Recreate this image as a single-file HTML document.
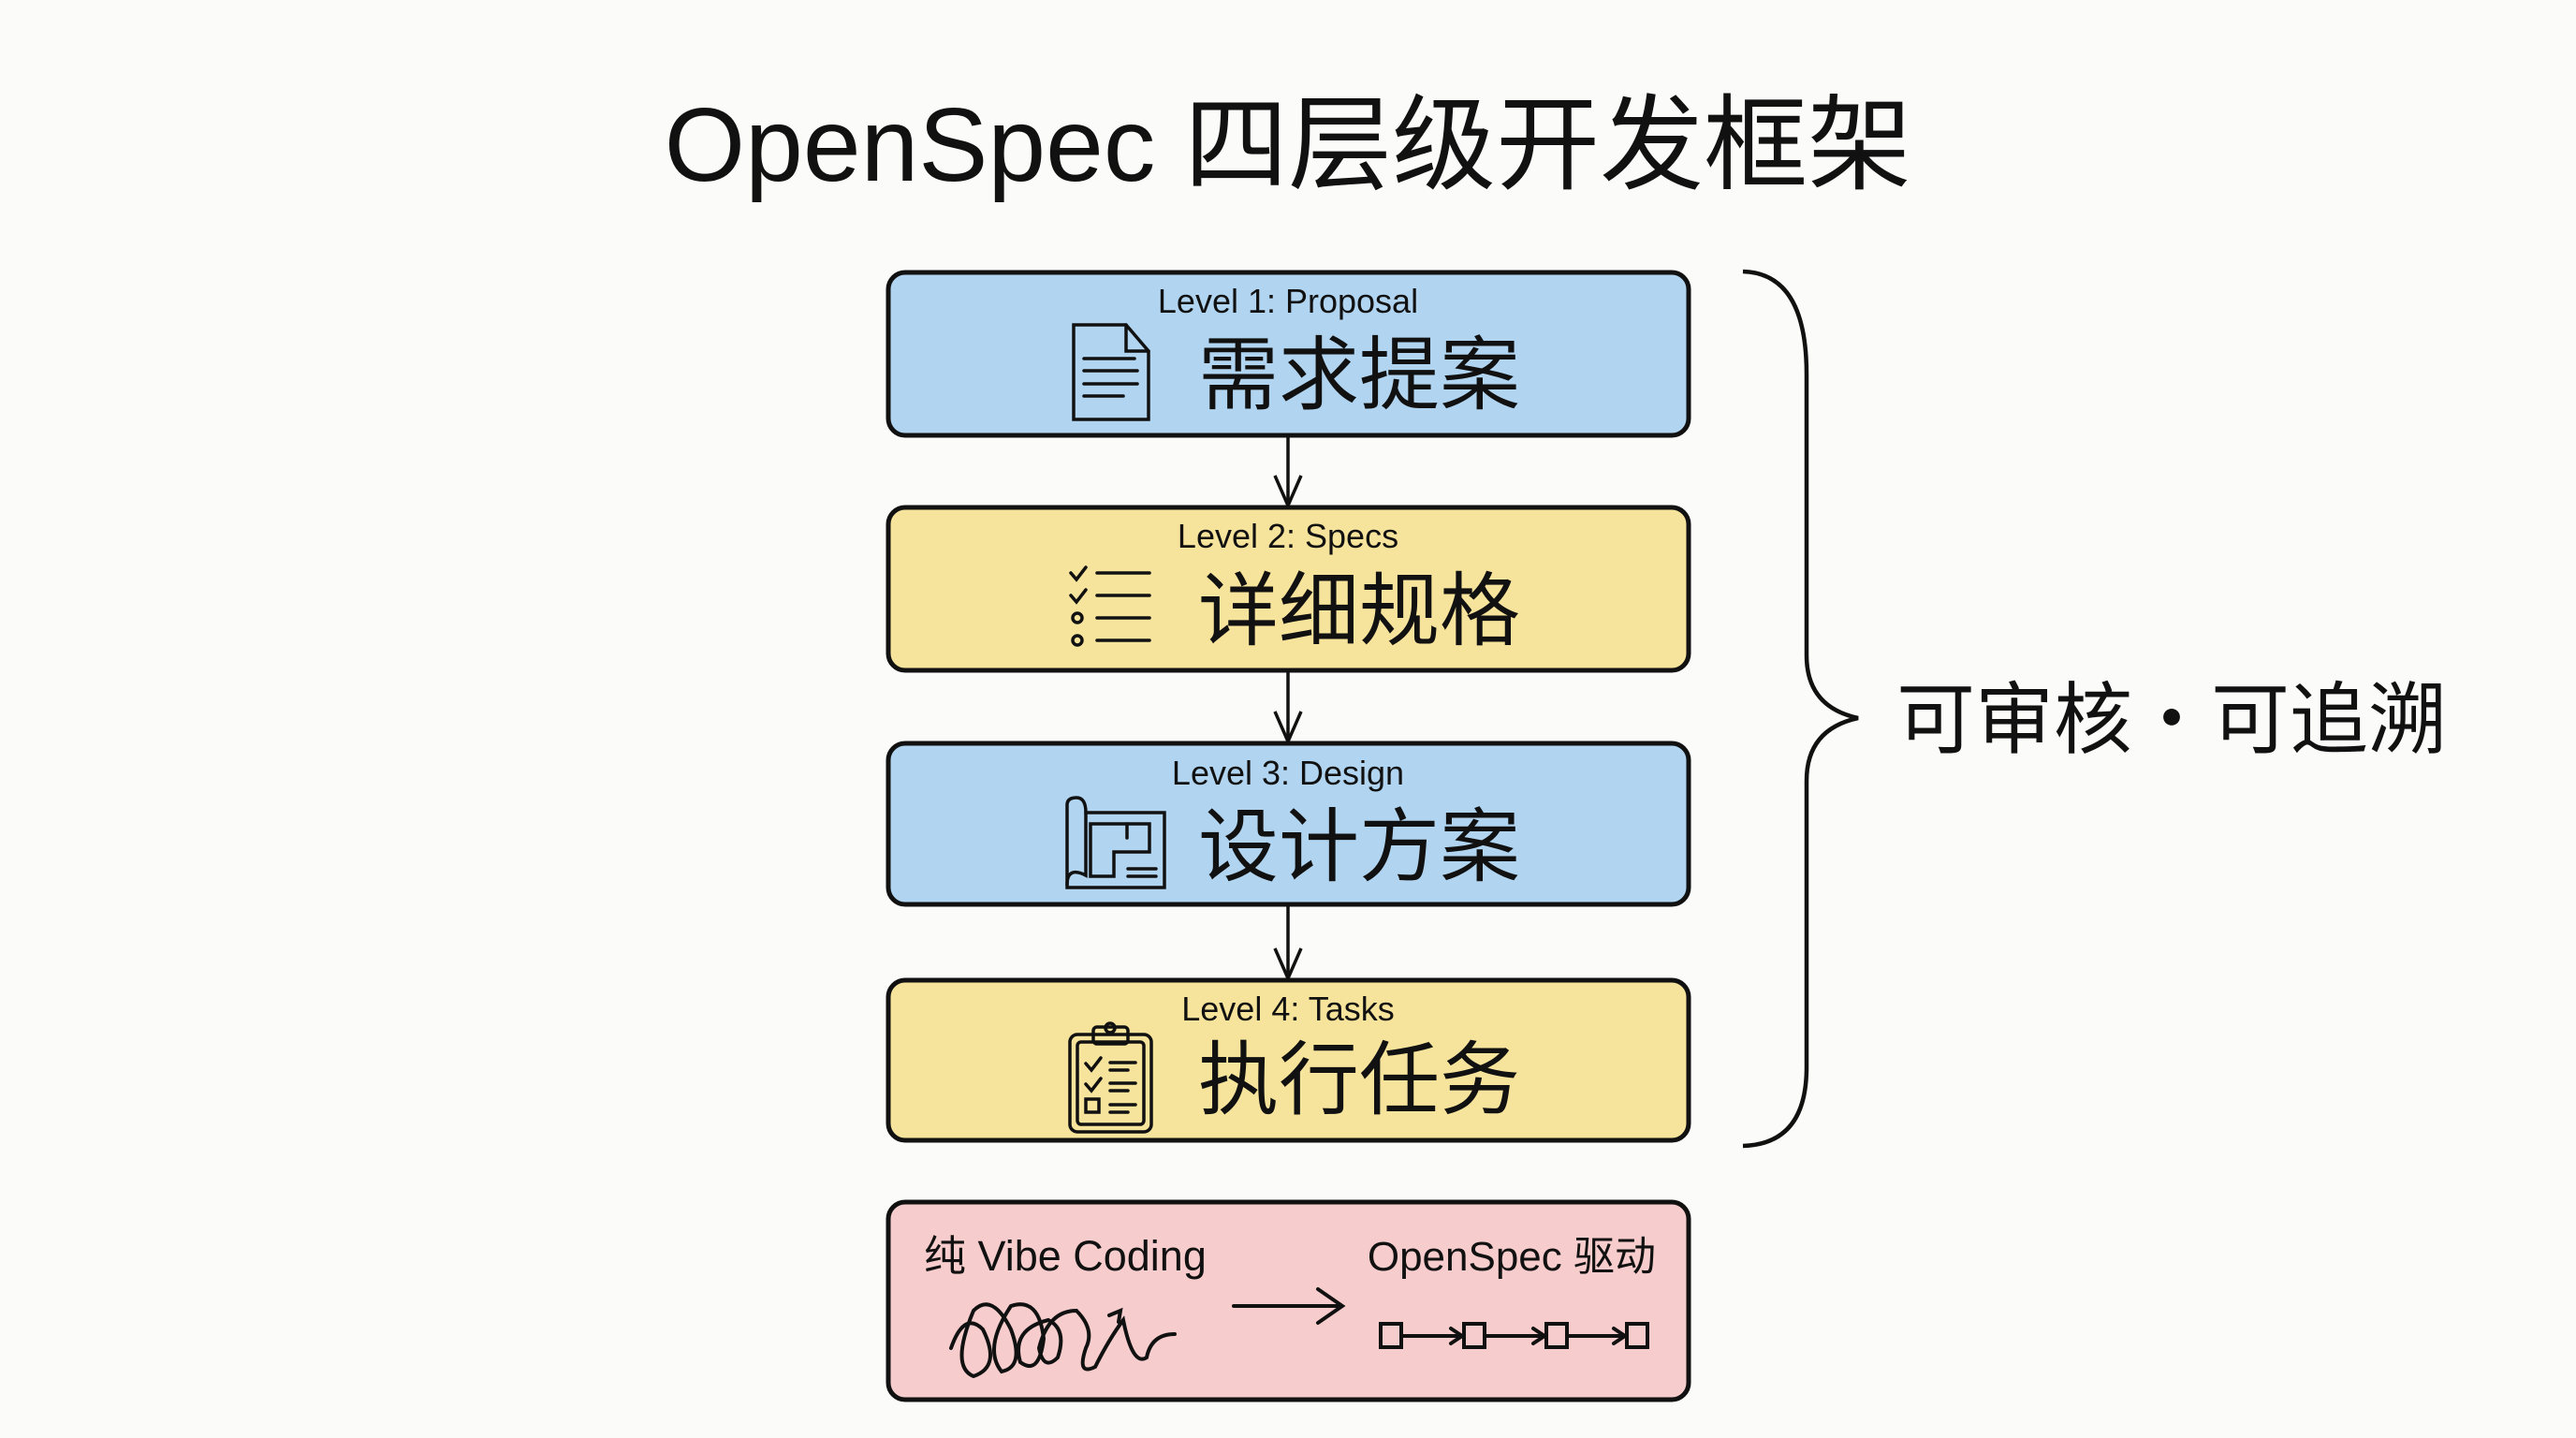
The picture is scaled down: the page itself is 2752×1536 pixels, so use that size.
<!DOCTYPE html>
<html><head><meta charset="utf-8"><style>
html,body{margin:0;padding:0;background:#fbfbf9;}
svg{display:block}
text{font-family:"Liberation Sans","Noto Sans CJK SC",sans-serif;fill:#111}
</style></head><body>
<svg width="2752" height="1536" viewBox="0 0 2752 1536" xmlns="http://www.w3.org/2000/svg">
<rect width="2752" height="1536" fill="#fbfbf9"/>
<text x="1376" y="193" font-size="111" text-anchor="middle">OpenSpec 四层级开发框架</text>

<g stroke="#111" stroke-width="5" fill="none">
<rect x="949" y="291" width="855" height="174" rx="18" fill="#b1d5f0"/>
<rect x="949" y="542" width="855" height="174" rx="18" fill="#f7e49c"/>
<rect x="949" y="794" width="855" height="172" rx="18" fill="#b1d5f0"/>
<rect x="949" y="1047" width="855" height="171" rx="18" fill="#f7e49c"/>
<rect x="949" y="1284" width="855" height="211" rx="18" fill="#f6cdcc"/>
</g>

<g stroke="#111" stroke-width="3.5" fill="none">
<line x1="1376" y1="465" x2="1376" y2="540"/><polyline points="1362,508 1376,540 1390,508"/>
<line x1="1376" y1="716" x2="1376" y2="792"/><polyline points="1362,760 1376,792 1390,760"/>
<line x1="1376" y1="966" x2="1376" y2="1045"/><polyline points="1362,1013 1376,1045 1390,1013"/>
</g>

<g font-size="36" text-anchor="middle">
<text x="1376" y="334">Level 1: Proposal</text>
<text x="1376" y="585">Level 2: Specs</text>
<text x="1376" y="838">Level 3: Design</text>
<text x="1376" y="1090">Level 4: Tasks</text>
</g>
<g font-size="86">
<text x="1280" y="430">需求提案</text>
<text x="1280" y="682">详细规格</text>
<text x="1280" y="934">设计方案</text>
<text x="1280" y="1183">执行任务</text>
</g>

<g stroke="#111" stroke-width="3.5" fill="none" stroke-linecap="round">
<path d="M1147,347 L1203,347 L1227,375 L1227,448 L1147,448 Z"/>
<path d="M1203,347 L1203,375 L1227,375"/>
<line x1="1158" y1="383" x2="1212" y2="383"/><line x1="1158" y1="396" x2="1215" y2="396"/>
<line x1="1158" y1="410" x2="1215" y2="410"/><line x1="1158" y1="423" x2="1200" y2="423"/>
<polyline points="1144,612 1150,619 1160,606"/><polyline points="1144,636 1150,643 1160,630"/>
<circle cx="1151" cy="660" r="5"/><circle cx="1151" cy="684" r="5"/>
<line x1="1172" y1="612" x2="1228" y2="612"/><line x1="1172" y1="636" x2="1228" y2="636"/>
<line x1="1172" y1="660" x2="1228" y2="660"/><line x1="1172" y1="684" x2="1228" y2="684"/>
<path d="M1140,860 Q1140,852 1150,852 Q1160,852 1160,868 L1244,868 L1244,948 L1140,948 Z"/>
<path d="M1160,868 L1160,935 Q1140,925 1140,945"/>
<path d="M1165,880 L1228,880 L1228,910 L1190,910 L1190,936 L1165,936 Z"/>
<line x1="1204" y1="880" x2="1204" y2="895"/>
<line x1="1205" y1="928" x2="1235" y2="928"/><line x1="1205" y1="936" x2="1235" y2="936"/>
<rect x="1143" y="1105" width="87" height="104" rx="8"/>
<rect x="1151" y="1113" width="71" height="88" rx="4"/>
<rect x="1168" y="1097" width="37" height="18" rx="4"/>
<circle cx="1186" cy="1098" r="5"/>
<polyline points="1160,1136 1166,1143 1176,1130"/><polyline points="1160,1158 1166,1165 1176,1152"/>
<rect x="1160" y="1174" width="14" height="14"/>
<line x1="1186" y1="1135" x2="1213" y2="1135"/><line x1="1186" y1="1143" x2="1205" y2="1143"/>
<line x1="1186" y1="1157" x2="1213" y2="1157"/><line x1="1186" y1="1165" x2="1205" y2="1165"/>
<line x1="1186" y1="1180" x2="1213" y2="1180"/><line x1="1186" y1="1188" x2="1205" y2="1188"/>
</g>

<path d="M1862,290 Q1930,292 1930,400 L1930,700 Q1930,755 1985,767 Q1930,779 1930,834 L1930,1140 Q1930,1222 1862,1224" stroke="#111" stroke-width="4.5" fill="none"/>
<text x="2026" y="798" font-size="84">可审核・可追溯</text>

<text x="987" y="1357" font-size="45">纯 Vibe Coding</text>
<text x="1769" y="1357" font-size="44" text-anchor="end">OpenSpec 驱动</text>
<g stroke="#111" stroke-width="4" fill="none" stroke-linecap="round">
<line x1="1318" y1="1395" x2="1432" y2="1395"/><polyline points="1408,1377 1434,1395 1408,1413"/>
<path d="M1016,1440 Q1030,1400 1050,1420 Q1070,1460 1040,1470 Q1015,1460 1040,1400 Q1060,1380 1080,1420 Q1095,1460 1070,1465 Q1050,1440 1080,1395 Q1110,1385 1115,1430 Q1110,1470 1090,1455 Q1080,1420 1120,1410 Q1140,1420 1130,1450 Q1115,1465 1110,1440 Q1120,1400 1150,1400 Q1170,1420 1160,1440 Q1150,1470 1170,1460 Q1185,1430 1200,1410 Q1210,1460 1225,1450 Q1230,1425 1255,1425"/>
<polyline points="1185,1405 1197,1400 1195,1412"/>
<rect x="1475" y="1414" width="22" height="25"/><rect x="1564" y="1414" width="22" height="25"/>
<rect x="1652" y="1414" width="22" height="25"/><rect x="1738" y="1414" width="22" height="25"/>
<line x1="1497" y1="1427" x2="1562" y2="1427"/><polyline points="1550,1419 1562,1427 1550,1435"/>
<line x1="1586" y1="1427" x2="1650" y2="1427"/><polyline points="1638,1419 1650,1427 1638,1435"/>
<line x1="1674" y1="1427" x2="1736" y2="1427"/><polyline points="1724,1419 1736,1427 1724,1435"/>
</g>
</svg>
</body></html>
